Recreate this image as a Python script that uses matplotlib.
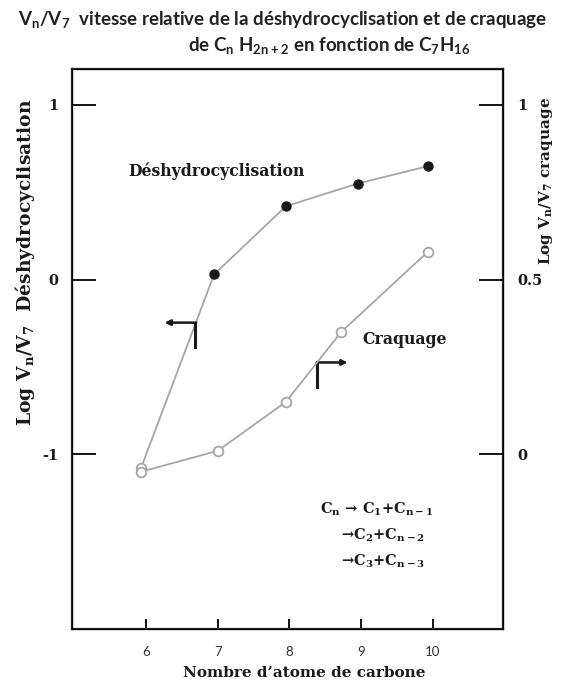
import matplotlib

matplotlib.use("Agg")
import matplotlib.pyplot as plt

plt.rcParams["mathtext.default"] = "regular"

# Data
carbon_dehydro = [5.93, 6.95, 7.95, 8.95, 9.93]
log_dehydro = [-1.08, 0.03, 0.42, 0.55, 0.65]
carbon_crack = [5.93, 7.0, 7.95, 8.72, 9.93]
log_crack = [-0.05, 0.01, 0.15, 0.35, 0.58]

x_ticks = [6, 7, 8, 9, 10]
left_ticks = [-1, 0, 1]
right_ticks = [0, 0.5, 1]
right_tick_labels = ["0", "0.5", "1"]

SERIF = ["DejaVu Serif"]
SANS = ["Lato", "DejaVu Sans"]
LINE = "#a6a6a6"
INK = "#1a1a1a"

fig = plt.figure(figsize=(5.64, 6.84), dpi=100)
fig.patch.set_facecolor("white")
ax = fig.add_axes([72 / 564, 1 - 629 / 684, (503 - 72) / 564, (629 - 69) / 684])
ax2 = ax.twinx()

ax.set_xlim(4.97, 10.976)
ax.set_ylim(-2.0, 1.206)
ax2.set_ylim(-0.5, 1.103)

# Déshydrocyclisation (left axis)
ax.plot(carbon_dehydro, log_dehydro, color=LINE, lw=1.3, zorder=2)
ax.plot(carbon_dehydro[1:], log_dehydro[1:], "o", ms=6.5, color=INK, zorder=3)
ax.plot(carbon_dehydro[:1], log_dehydro[:1], "o", ms=7, mfc="white", mec=LINE, mew=1.3, zorder=3)

# Craquage (right axis)
ax2.plot(carbon_crack, log_crack, "o-", color=LINE, lw=1.3, ms=7, mfc="white", mec=LINE, mew=1.3)

for spine in ax.spines.values():
    spine.set_linewidth(1.6)
    spine.set_color("#222222")

ax.set_xticks(x_ticks)
ax.set_xticklabels([str(v) for v in x_ticks], fontsize=9.5, color="#333333", family=SANS)
ax.tick_params(axis="x", direction="in", length=7, width=1.3, pad=12)

ax.set_yticks(left_ticks)
ax.set_yticklabels([str(v) for v in left_ticks], fontsize=10.5, fontweight="bold", family=SERIF, color=INK)
ax.tick_params(axis="y", direction="in", length=17, width=1.3, pad=10)

ax2.set_yticks(right_ticks)
ax2.set_yticklabels(right_tick_labels, fontsize=10.5, fontweight="bold", family=SERIF, color=INK)
ax2.tick_params(axis="y", direction="in", length=17, width=1.3, pad=10)

# axis titles
ax.text(0.538, -0.078, "Nombre d’atome de carbone", transform=ax.transAxes,
        ha="center", va="center", fontsize=11, fontweight="bold", family=SERIF, color=INK)
ax.text(-0.108, 0.654, "Log V$_n$/V$_7$  Déshydrocyclisation", transform=ax.transAxes,
        rotation=90, ha="center", va="center", fontsize=13.5, fontweight="bold", family=SERIF, color=INK)
ax.text(1.1, 0.8, "Log V$_n$/V$_7$ craquage", transform=ax.transAxes,
        rotation=90, ha="center", va="center", fontsize=11, fontweight="bold", family=SERIF, color=INK)

# curve labels
ax.text(6.99, 0.623, "Déshydrocyclisation", ha="center", va="center",
        fontsize=11.3, fontweight="bold", family=SERIF, color=INK)
ax.text(9.61, -0.343, "Craquage", ha="center", va="center",
        fontsize=11.3, fontweight="bold", family=SERIF, color=INK)

# bracket arrows pointing to the matching axis
ax.annotate("", xy=(6.26, -0.246), xytext=(6.70, -0.246),
            arrowprops=dict(arrowstyle="-|>", lw=1.8, color=INK, mutation_scale=8, shrinkA=0, shrinkB=0))
ax.plot([6.69, 6.69], [-0.246, -0.383], color=INK, lw=2.2)
ax.annotate("", xy=(8.81, -0.474), xytext=(8.38, -0.474),
            arrowprops=dict(arrowstyle="-|>", lw=1.8, color=INK, mutation_scale=8, shrinkA=0, shrinkB=0))
ax.plot([8.39, 8.39], [-0.474, -0.617], color=INK, lw=2.2)

# reaction scheme
eq_kw = dict(ha="left", va="center", fontsize=10.5, fontweight="bold", family=SERIF, color=INK)
ax.text(8.42, -1.314, "C$_n$ → C$_1$+C$_{n-1}$", **eq_kw)
ax.text(8.72, -1.463, "→C$_2$+C$_{n-2}$", **eq_kw)
ax.text(8.72, -1.611, "→C$_3$+C$_{n-3}$", **eq_kw)

# title
fig.text(283 / 564, 1 - 19 / 684, "V$_n$/V$_7$  vitesse relative de la déshydrocyclisation et de craquage",
         ha="center", va="center", fontsize=13.5, fontweight="bold", family=SANS, color="#222222")
fig.text(329 / 564, 1 - 45 / 684, "de C$_n$ H$_{2n+2}$ en fonction de C$_7$H$_{16}$",
         ha="center", va="center", fontsize=13.5, fontweight="bold", family=SANS, color="#222222")

fig.savefig("out.png", dpi=100, facecolor="white")
